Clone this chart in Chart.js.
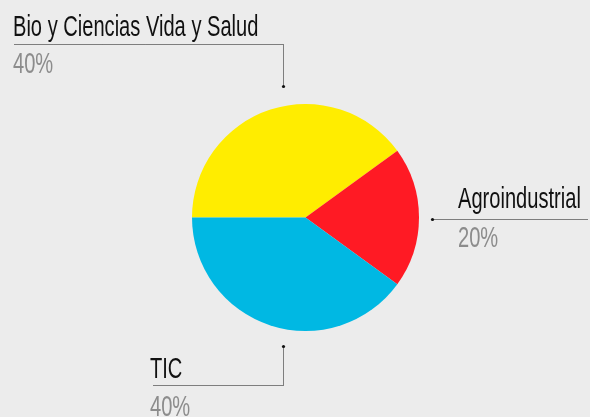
<!DOCTYPE html>
<html>
<head>
<meta charset="utf-8">
<script src="https://cdn.jsdelivr.net/npm/chart.js@4"></script>
<style>
  html, body { margin: 0; padding: 0; background: #ececec; }
  #wrap { width: 590px; height: 417px; }
</style>
</head>
<body>
<div id="wrap"><canvas id="pie"></canvas></div>
<script>
const labels = ['Bio y Ciencias Vida y Salud', 'Agroindustrial', 'TIC'];
const values = [40, 20, 40];
const colors = ['#ffed00', '#ff1a24', '#00b8e3'];

// where each callout sits: dot, leader elbow, text spot
const callouts = [
    { dot: [283, 86], elbow: [283, 44], end: [13, 44], text: [13, 36], pct: [13, 73] },
    { dot: [432, 219], elbow: [432, 219], end: [588, 219], text: [458, 208], pct: [458, 247] },
    { dot: [283, 346], elbow: [283, 385], end: [153, 385], text: [150, 378], pct: [150, 416] },
];

const FONT = '"Liberation Sans", Arial, sans-serif';

function squeezeText(ctx, txt, x, y, color) {
    ctx.save();
    ctx.translate(x, y);
    ctx.scale(0.67, 1);
    ctx.fillStyle = color;
    ctx.fillText(txt, 0, 0);
    ctx.restore();
}

const calloutPlugin = {
    id: 'callouts',
    afterDraw(chart) {
        const ctx = chart.ctx;
        ctx.save();
        callouts.forEach((c, i) => {
            ctx.strokeStyle = '#111';
            ctx.lineWidth = 1;
            ctx.setLineDash([1, 1]);
            ctx.beginPath();
            ctx.moveTo(c.dot[0] + 0.5, c.dot[1] + 0.5);
            ctx.lineTo(c.elbow[0] + 0.5, c.elbow[1] + 0.5);
            ctx.lineTo(c.end[0] + 0.5, c.end[1] + 0.5);
            ctx.stroke();
            ctx.setLineDash([]);
            ctx.fillStyle = '#111';
            ctx.beginPath();
            ctx.arc(c.dot[0] + 0.5, c.dot[1] + 0.5, 1.6, 0, Math.PI * 2);
            ctx.fill();

            ctx.textBaseline = 'alphabetic';
            ctx.textAlign = 'left';
            ctx.font = '30px ' + FONT;
            squeezeText(ctx, labels[i], c.text[0], c.text[1], '#111');
            squeezeText(ctx, values[i] + '%', c.pct[0], c.pct[1], '#8c8c8c');
        });
        ctx.restore();
    }
};

new Chart(document.getElementById('pie'), {
    type: 'pie',
    data: {
        labels: labels,
        datasets: [{
            data: values,
            backgroundColor: colors,
            borderWidth: 0,
        }],
    },
    options: {
        responsive: true,
        maintainAspectRatio: false,
        animation: false,
        rotation: -90,
        layout: { padding: { left: 192, right: 171, top: 104, bottom: 86 } },
        plugins: {
            legend: { display: false },
            tooltip: { enabled: false },
        },
    },
    plugins: [calloutPlugin],
});
</script>
</body>
</html>
